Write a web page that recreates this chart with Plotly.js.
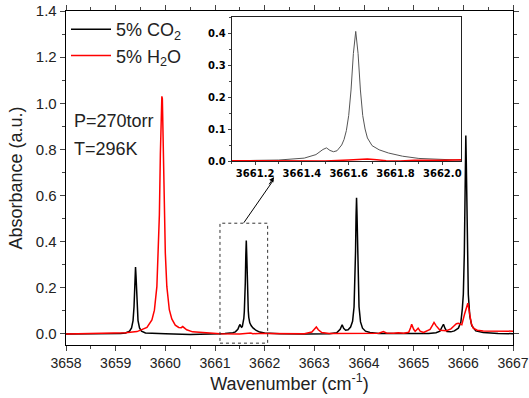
<!DOCTYPE html>
<html>
<head>
<meta charset="utf-8">
<script src="https://cdn.plot.ly/plotly-3.0.1.min.js"></script>
<style>html,body{margin:0;padding:0;background:#fff}#chart{width:529px;height:398px}</style>
</head>
<body>
<div id="chart"></div>
<script>
// Series names
const seriesNames = ["5% CO<sub>2</sub>", "5% H<sub>2</sub>O"];

// 5% CO2 spectrum (wavenumber, absorbance)
const co2X = [3658.0, 3658.8, 3659.0, 3659.1, 3659.2, 3659.28, 3659.32, 3659.35, 3659.37, 3659.38, 3659.39, 3659.40,
  3659.41, 3659.42, 3659.43, 3659.45, 3659.48, 3659.52, 3659.6, 3659.75, 3660.0, 3660.5, 3661.0,
  3661.10, 3661.20, 3661.30, 3661.36, 3661.41, 3661.46, 3661.49, 3661.505, 3661.52, 3661.535, 3661.55, 3661.57,
  3661.58, 3661.59, 3661.60, 3661.61, 3661.62, 3661.63, 3661.64, 3661.65, 3661.66, 3661.67, 3661.68, 3661.70,
  3661.73, 3661.77, 3661.83, 3661.9, 3662.0, 3662.1, 3662.3, 3662.8, 3663.3, 3663.45, 3663.52, 3663.56,
  3663.59, 3663.63, 3663.68, 3663.73, 3663.77, 3663.80, 3663.82, 3663.83, 3663.84, 3663.85, 3663.86, 3663.87,
  3663.88, 3663.90, 3663.93, 3663.97, 3664.03, 3664.12, 3664.3, 3664.8, 3665.3, 3665.45, 3665.53, 3665.57,
  3665.60, 3665.63, 3665.67, 3665.75, 3665.82, 3665.90, 3665.95, 3665.98, 3666.00, 3666.02, 3666.03, 3666.04,
  3666.05, 3666.06, 3666.07, 3666.08, 3666.10, 3666.13, 3666.17, 3666.25, 3666.4, 3666.7, 3667.0];
const co2Y = [0.000, 0.000, 0.001, 0.002, 0.004, 0.012, 0.026, 0.058, 0.119, 0.177, 0.250, 0.290,
  0.250, 0.177, 0.119, 0.058, 0.026, 0.012, 0.004, 0.0015, 0.0005, -0.002, -0.002,
  0.001, 0.002, 0.003, 0.005, 0.009, 0.020, 0.036, 0.041, 0.033, 0.029, 0.032, 0.050,
  0.067, 0.095, 0.142, 0.222, 0.336, 0.405, 0.336, 0.222, 0.142, 0.100, 0.072, 0.048,
  0.035, 0.025, 0.015, 0.008, 0.004, 0.002, 0.001, 0.000, 0.001, 0.005, 0.020, 0.040,
  0.024, 0.016, 0.018, 0.030, 0.055, 0.118, 0.240, 0.360, 0.510, 0.590, 0.510, 0.360,
  0.240, 0.118, 0.052, 0.025, 0.012, 0.006, 0.002, 0.001, 0.002, 0.005, 0.012, 0.030,
  0.042, 0.025, 0.010, 0.009, 0.013, 0.025, 0.050, 0.110, 0.172, 0.350, 0.525, 0.740,
  0.860, 0.740, 0.525, 0.350, 0.172, 0.077, 0.036, 0.013, 0.006, 0.002, 0.001];

// 5% H2O spectrum (wavenumber, absorbance)
const h2oX = [3658.0, 3658.8, 3659.2, 3659.43, 3659.63, 3659.73, 3659.78, 3659.83, 3659.86, 3659.88, 3659.90, 3659.91,
  3659.92, 3659.93, 3659.94, 3659.95, 3659.96, 3659.98, 3660.00, 3660.03, 3660.08, 3660.13, 3660.2, 3660.27,
  3660.32, 3660.35, 3660.38, 3660.43, 3660.55, 3660.8, 3661.1, 3661.5, 3661.6, 3661.64, 3661.68, 3661.72,
  3661.76, 3661.82, 3661.88, 3662.0, 3662.3, 3662.8, 3662.95, 3663.0, 3663.04, 3663.08, 3663.15, 3663.3,
  3663.8, 3664.3, 3664.39, 3664.45, 3664.6, 3664.69, 3664.8, 3664.9, 3664.94, 3664.96, 3665.0, 3665.03,
  3665.09, 3665.13, 3665.2, 3665.33, 3665.38, 3665.41, 3665.45, 3665.53, 3665.66, 3665.75, 3665.80, 3665.86,
  3665.90, 3665.97, 3666.03, 3666.07, 3666.09, 3666.11, 3666.13, 3666.16, 3666.20, 3666.28, 3666.40, 3666.7, 3667.0];
const h2oY = [0.000, 0.002, 0.005, 0.010, 0.028, 0.061, 0.103, 0.206, 0.350, 0.515, 0.780, 0.910,
  1.020, 1.030, 1.020, 0.910, 0.780, 0.515, 0.350, 0.206, 0.105, 0.065, 0.038, 0.028,
  0.027, 0.032, 0.028, 0.018, 0.009, 0.004, 0.001, 0.000, 0.003, 0.004, 0.006, 0.004,
  0.001, 0.000, 0.002, 0.002, 0.001, 0.001, 0.008, 0.022, 0.030, 0.018, 0.006, 0.002,
  0.002, 0.003, 0.010, 0.004, 0.003, 0.005, 0.003, 0.007, 0.028, 0.042, 0.020, 0.011,
  0.025, 0.012, 0.006, 0.020, 0.038, 0.050, 0.036, 0.016, 0.014, 0.022, 0.032, 0.044,
  0.046, 0.040, 0.090, 0.125, 0.133, 0.110, 0.075, 0.045, 0.025, 0.016, 0.013, 0.011, 0.012];

// Axis ticks
const mainXTicks = [3658, 3659, 3660, 3661, 3662, 3663, 3664, 3665, 3666, 3667];
const mainYTicks = [0.0, 0.2, 0.4, 0.6, 0.8, 1.0, 1.2, 1.4];
const insetXTicks = [3661.2, 3661.4, 3661.6, 3661.8, 3662.0];
const insetYTicks = [0.0, 0.1, 0.2, 0.3, 0.4];

const traces = [
  {x: co2X, y: co2Y, type: 'scatter', mode: 'lines', name: seriesNames[0],
   line: {color: '#000000', width: 1.5}, xaxis: 'x', yaxis: 'y'},
  {x: h2oX, y: h2oY, type: 'scatter', mode: 'lines', name: seriesNames[1],
   line: {color: '#ff0000', width: 1.5}, xaxis: 'x', yaxis: 'y'},
  {x: co2X, y: co2Y, type: 'scatter', mode: 'lines', showlegend: false,
   line: {color: '#555555', width: 1}, xaxis: 'x2', yaxis: 'y2'},
  {x: h2oX, y: h2oY, type: 'scatter', mode: 'lines', showlegend: false,
   line: {color: '#ff0000', width: 1.5}, xaxis: 'x2', yaxis: 'y2'}
];

const fam = 'Liberation Sans, Arial, sans-serif';
const insetFont = {family: 'DejaVu Sans, sans-serif', size: 10, color: '#000', weight: 'bold'};

const layout = {
  width: 529, height: 398,
  margin: {l: 66, r: 16, t: 11, b: 53},
  paper_bgcolor: '#fff', plot_bgcolor: '#fff',
  showlegend: true,
  legend: {x: 0.0, y: 1.0, xanchor: 'left', yanchor: 'top', bgcolor: 'rgba(0,0,0,0)',
           font: {family: fam, size: 18, color: '#222'},
           itemwidth: 40, tracegroupgap: 0},
  xaxis: {range: [3658, 3667], tickvals: mainXTicks, ticks: 'outside', ticklen: 5, tickwidth: 1,
          minor: {dtick: 0.5, tick0: 3658, ticks: 'outside', ticklen: 3},
          showline: true, linecolor: '#000', linewidth: 1.3, mirror: 'ticks',
          showgrid: false, zeroline: false, tickfont: {family: fam, size: 14, color: '#222'}, automargin: false,
          title: {text: 'Wavenumber (cm<sup>-1</sup>)', font: {family: fam, size: 18, color: '#222'}, standoff: 6}},
  yaxis: {range: [-0.048, 1.4], tickvals: mainYTicks, tickformat: '.1f', ticks: 'outside', ticklen: 5, tickwidth: 1,
          minor: {dtick: 0.1, tick0: 0, ticks: 'outside', ticklen: 3},
          showline: true, linecolor: '#000', linewidth: 1.3, mirror: 'ticks',
          showgrid: false, zeroline: false, tickfont: {family: fam, size: 15, color: '#222'}, automargin: false,
          title: {text: 'Absorbance (a.u.)', font: {family: fam, size: 18, color: '#222'}, standoff: 8}},
  xaxis2: {domain: [0.3707, 0.8837], anchor: 'y2', range: [3661.10, 3662.08], tickvals: insetXTicks, tickformat: '.1f',
           ticks: 'outside', ticklen: 3, minor: {dtick: 0.1, tick0: 3661.2, ticks: 'outside', ticklen: 2},
           showline: true, linecolor: '#222', linewidth: 1, mirror: true,
           showgrid: false, zeroline: false, tickfont: insetFont, automargin: false},
  yaxis2: {domain: [0.5509, 0.982], anchor: 'x2', range: [0, 0.45], tickvals: insetYTicks, tickformat: '.1f',
           ticks: 'outside', ticklen: 3, minor: {dtick: 0.05, tick0: 0, ticks: 'outside', ticklen: 2},
           showline: true, linecolor: '#222', linewidth: 1, mirror: true,
           showgrid: false, zeroline: false, tickfont: insetFont, automargin: false},
  shapes: [
    {type: 'rect', xref: 'x', yref: 'y', x0: 3661.1, x1: 3662.06, y0: -0.04, y1: 0.48,
     line: {color: '#333', width: 1, dash: 'dot'}, fillcolor: 'rgba(0,0,0,0)'},
    {type: 'line', xref: 'x', yref: 'y', x0: 3661.58, y0: 0.482, x1: 3662.17, y1: 0.665,
     line: {color: '#000', width: 1}}
  ],
  annotations: [
    {xref: 'x', yref: 'y', x: 3662.19, y: 0.68, axref: 'x', ayref: 'y', ax: 3662.05, ay: 0.636,
     showarrow: true, arrowhead: 2, arrowsize: 1, arrowwidth: 1, arrowcolor: '#000', text: ' ',
     font: {size: 2}},
    {xref: 'paper', yref: 'paper', x: 0.013, y: 0.671, xanchor: 'left', yanchor: 'middle', showarrow: false,
     text: 'P=270torr', font: {family: fam, size: 18, color: '#222'}},
    {xref: 'paper', yref: 'paper', x: 0.013, y: 0.586, xanchor: 'left', yanchor: 'middle', showarrow: false,
     text: 'T=296K', font: {family: fam, size: 18, color: '#222'}}
  ]
};

Plotly.newPlot('chart', traces, layout, {displayModeBar: false, staticPlot: true});
</script>
</body>
</html>
